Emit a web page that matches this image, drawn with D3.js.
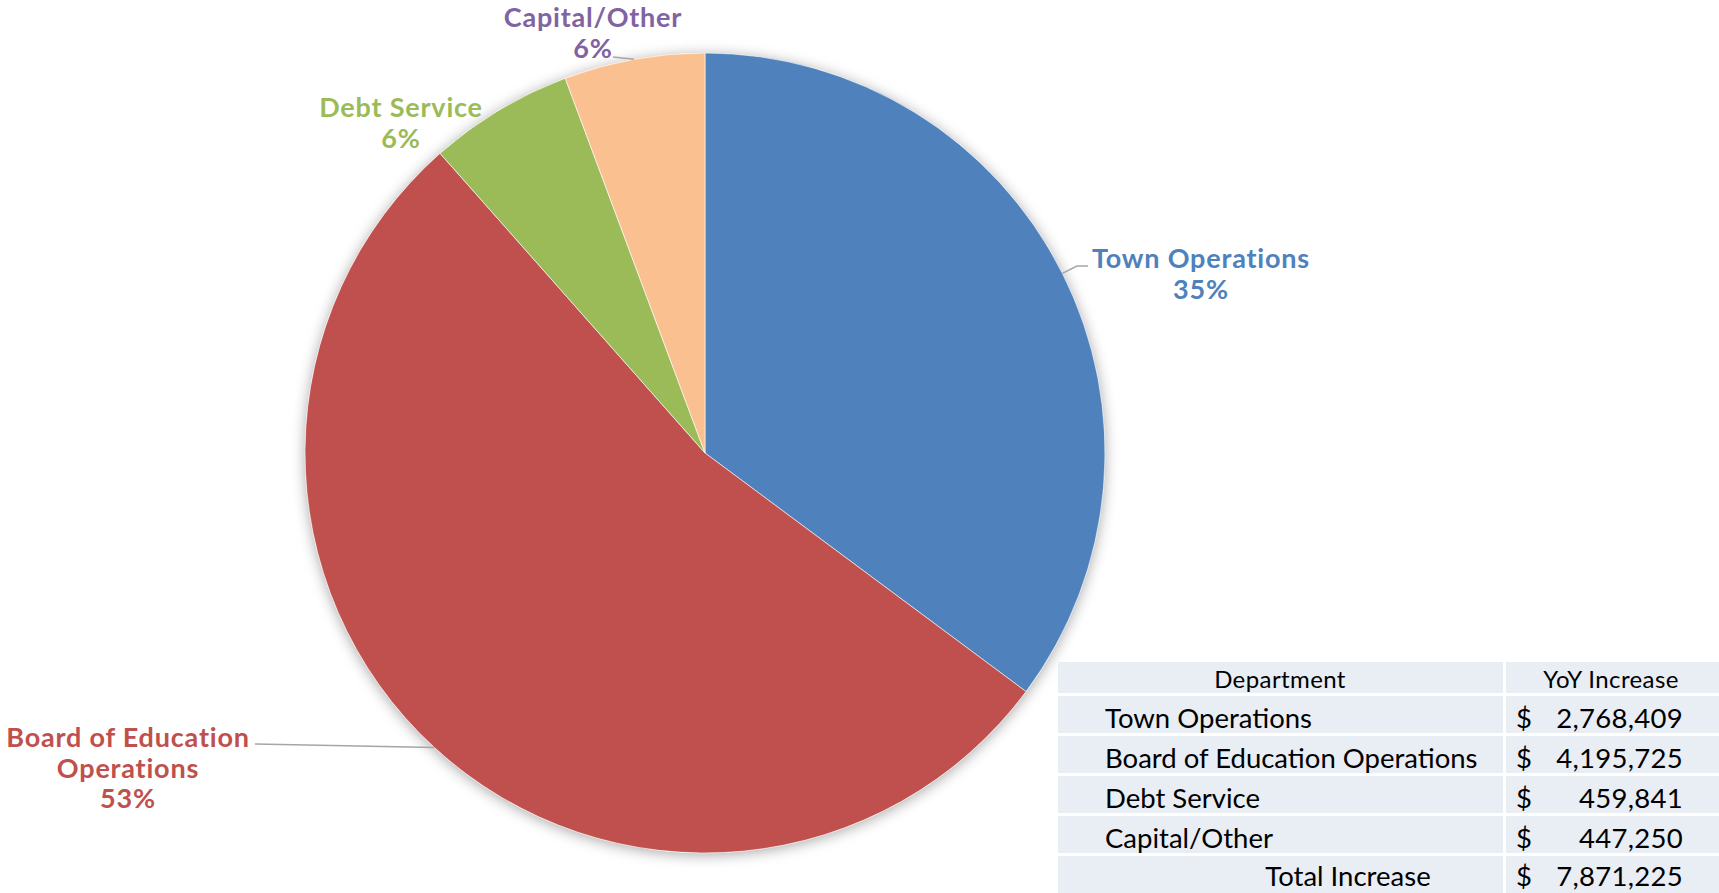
<!DOCTYPE html>
<html><head><meta charset="utf-8">
<script src="https://cdn.jsdelivr.net/npm/d3@7"></script>
<style>
html,body{margin:0;padding:0;background:#fff;}
svg{display:block;}
text{font-family:Lato,"Open Sans",sans-serif;}
</style></head>
<body><svg id="c" width="1719" height="893"></svg>
<script>
const categories = ["Town Operations","Board of Education Operations","Debt Service","Capital/Other"];
const values = [2768409, 4195725, 459841, 447250];
const labelLines = [["Town Operations"],["Board of Education","Operations"],["Debt Service"],["Capital/Other"]];
const sliceColors = ["#4f81bd","#c0504d","#9bbb59","#fac090"];
const labelColors = ["#4f81bd","#c0504d","#9bbb59","#8064a2"];
const tableHeader = ["Department","YoY Increase"];
const totalLabel = "Total Increase";

const svg = d3.select("#c");
const cx = 705, cy = 453, R = 400;

const defs = svg.append("defs");
const f = defs.append("filter").attr("id","sh").attr("x","-20%").attr("y","-20%").attr("width","140%").attr("height","140%");
f.append("feDropShadow").attr("dx",0).attr("dy",2).attr("stdDeviation",7).attr("flood-color","#000").attr("flood-opacity",0.35);

const total = d3.sum(values);
const pie = d3.pie().sort(null).value(d=>d)(values);
const arc = d3.arc().innerRadius(0).outerRadius(R);
const g = svg.append("g").attr("transform",`translate(${cx},${cy})`);
g.append("circle").attr("r",R).attr("fill","#fff").attr("filter","url(#sh)");
g.selectAll("path.s").data(pie).join("path").attr("class","s")
  .attr("d",arc).attr("fill",(d,i)=>sliceColors[i]).attr("stroke","#fff").attr("stroke-width",0.6);

const pct = d3.format(".0%");
const labelPos = [
  {x:1201, y:268, lead:true, elbow:[1077,266], end:[1088,266]},
  {x:128, y:747, lead:true, elbow:null, end:[255,744]},
  {x:401, y:117, lead:false},
  {x:593, y:27, lead:true, elbow:null, end:[613,57]}
];
const lh = 30.5;
pie.forEach((d,i)=>{
  const p = labelPos[i];
  const t = svg.append("text").attr("text-anchor","middle").attr("font-weight",700)
    .attr("font-size",27).attr("letter-spacing",0.8).attr("fill",labelColors[i]);
  const lines = labelLines[i].concat([pct(d.value/total)]);
  lines.forEach((s,k)=>t.append("tspan").attr("x",p.x).attr("y",p.y+k*lh).text(s));
  if(p.lead){
    const a = (d.startAngle+d.endAngle)/2;
    const ex = cx + R*Math.sin(a), ey = cy - R*Math.cos(a);
    const pts = [[ex,ey]];
    if(p.elbow) pts.push(p.elbow);
    pts.push(p.end);
    svg.append("path").attr("d",d3.line()(pts)).attr("fill","none").attr("stroke","#a6a6a6").attr("stroke-width",1.5);
  }
});

// table
const tx0 = 1058, tx1 = 1503, tx2 = 1506, tx3 = 1719;
const rowsY = [[662,693],[696,733],[736,773],[776,813],[816,853],[856,893]];
const tg = svg.append("g");
rowsY.forEach(r=>{
  tg.append("rect").attr("x",tx0).attr("y",r[0]).attr("width",tx1-tx0).attr("height",r[1]-r[0]).attr("fill","#e9edf4");
  tg.append("rect").attr("x",tx2).attr("y",r[0]).attr("width",tx3-tx2).attr("height",r[1]-r[0]).attr("fill","#e9edf4");
});
const fmt = d3.format(",");
tg.append("text").attr("x",1280).attr("y",688).attr("text-anchor","middle").attr("font-size",24).attr("letter-spacing",0.4).attr("fill","#000").text(tableHeader[0]);
tg.append("text").attr("x",1611).attr("y",688).attr("text-anchor","middle").attr("font-size",24).attr("letter-spacing",0.4).attr("fill","#000").text(tableHeader[1]);
const rowVals = values.concat([total]);
const rowNames = categories.concat([totalLabel]);
const bases = [728,768,808,848,886];
rowNames.forEach((n,i)=>{
  const last = i===rowNames.length-1;
  tg.append("text").attr("x",last?1348:1105).attr("y",bases[i]).attr("text-anchor",last?"middle":"start")
    .attr("font-size",27.5).attr("fill","#000").text(n);
  tg.append("text").attr("x",1516).attr("y",bases[i]).attr("font-size",27.5).attr("fill","#000").text("$");
  tg.append("text").attr("x",1683).attr("y",bases[i]).attr("text-anchor","end").attr("font-size",27.5).attr("letter-spacing",0.3).attr("fill","#000").text(fmt(rowVals[i]));
});
</script></body></html>
